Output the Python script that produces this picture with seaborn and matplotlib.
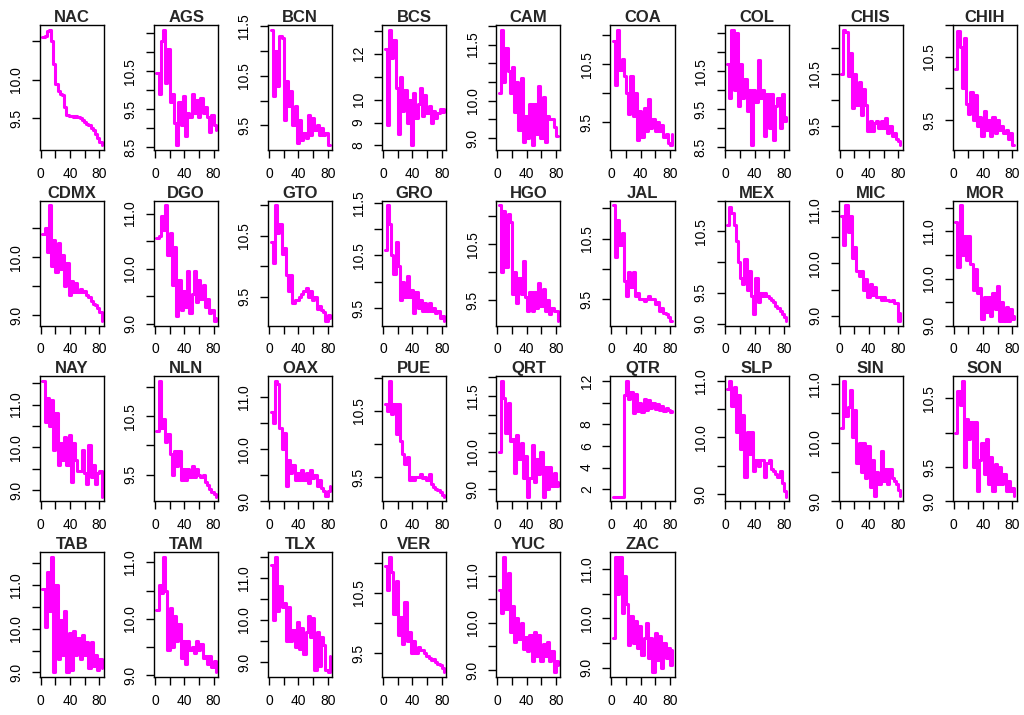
import pandas as pd
import matplotlib
matplotlib.use("Agg")
import matplotlib.pyplot as plt
import seaborn as sns

# monthly index (every third point)
months = list(range(2, 84, 3))

nac = [10.55, 10.57, 10.63, 10.65, 10.5, 10.2, 9.95, 9.85, 9.82, 9.8, 9.65, 9.55, 9.53, 9.53,
       9.52, 9.53, 9.52, 9.5, 9.48, 9.45, 9.43, 9.42, 9.38, 9.35, 9.3, 9.25, 9.2, 9.15]
ags = [10.45, 9.9, 11.3, 11.6, 10.2, 11.1, 9.7, 9.9, 9.15, 8.55, 9.7, 9.1, 9.85, 8.8,
       9.4, 9.3, 9.9, 9.4, 9.75, 9.3, 9.8, 9.4, 9.55, 9.3, 8.9, 9.35, 9.1, 8.95]
bcn = [11.42, 10.1, 11.0, 10.3, 11.3, 11.25, 9.6, 10.4, 9.9, 10.2, 9.5, 9.9, 9.15, 9.6,
       9.2, 9.35, 9.25, 9.7, 9.3, 9.65, 9.4, 9.5, 9.3, 9.45, 9.3, 9.35, 9.1, 9.1]
bcs = [12.2, 8.9, 13.05, 11.8, 12.6, 10.5, 8.5, 11.0, 9.5, 10.4, 9.0, 10.0, 8.0, 10.3,
       9.2, 9.8, 10.5, 9.3, 10.2, 9.4, 9.7, 9.0, 9.5, 9.2, 9.4, 9.6, 9.45, 9.6]
cam = [10.2, 11.9, 10.5, 11.4, 10.8, 10.2, 10.9, 9.7, 10.5, 9.2, 10.6, 8.9, 9.6, 9.0,
       9.9, 8.8, 9.9, 9.1, 10.4, 9.0, 10.1, 8.9, 9.6, 9.5, 9.5, 9.3, 9.05, 9.05]
coa = [10.9, 10.15, 11.1, 10.4, 10.6, 10.3, 10.0, 9.65, 10.3, 9.6, 10.0, 9.2, 9.7, 9.25,
       9.75, 9.35, 9.9, 9.4, 9.55, 9.35, 9.5, 9.35, 9.45, 9.25, 9.3, 9.15, 9.1, 9.3]
col = [10.7, 9.8, 11.6, 10.0, 11.5, 9.6, 10.7, 9.8, 10.3, 9.45, 10.0, 8.55, 10.0, 9.7,
       10.8, 9.8, 10.0, 8.8, 9.9, 9.0, 9.9, 8.7, 9.6, 9.8, 9.0, 9.9, 9.2, 9.3]
chis = [10.5, 11.35, 11.3, 10.45, 10.9, 9.85, 10.5, 9.9, 10.35, 9.7, 10.2, 9.9, 9.4, 9.6,
        9.4, 9.55, 9.6, 9.45, 9.6, 9.45, 9.65, 9.35, 9.5, 9.3, 9.35, 9.25, 9.2, 9.12]
chih = [10.3, 10.9, 10.65, 10.0, 10.8, 9.75, 9.6, 9.95, 9.5, 9.9, 9.4, 9.55, 9.25, 9.65,
        9.35, 9.5, 9.25, 9.55, 9.3, 9.5, 9.35, 9.4, 9.3, 9.35, 9.2, 9.3, 9.1, 9.1]
cdmx = [10.4, 10.5, 10.1, 10.9, 9.85, 10.3, 9.75, 10.25, 9.8, 10.05, 9.5, 9.9, 9.35, 9.6,
        9.4, 9.55, 9.4, 9.45, 9.4, 9.42, 9.35, 9.32, 9.25, 9.2, 9.17, 9.12, 9.05, 8.9]
dgo = [10.55, 10.6, 10.95, 10.7, 11.15, 10.25, 10.65, 9.7, 10.4, 9.15, 9.8, 9.25, 9.6, 9.3,
       9.95, 9.2, 9.55, 9.95, 9.4, 9.8, 9.45, 9.7, 9.3, 9.45, 9.2, 9.25, 9.05, 9.1]
gto = [10.4, 10.05, 11.0, 10.55, 10.7, 10.2, 10.3, 9.85, 9.6, 9.85, 9.4, 9.45, 9.45, 9.5,
       9.55, 9.6, 9.65, 9.5, 9.6, 9.45, 9.5, 9.3, 9.35, 9.28, 9.25, 9.1, 9.2, 9.15]
gro = [10.6, 11.45, 11.1, 10.5, 10.15, 10.75, 10.3, 9.65, 10.0, 9.7, 10.1, 9.7, 9.85, 9.4,
       9.8, 9.5, 9.65, 9.45, 9.6, 9.45, 9.6, 9.45, 9.5, 9.4, 9.45, 9.3, 9.35, 9.25]
hgo = [11.2, 10.0, 11.1, 10.1, 11.05, 10.9, 9.6, 10.0, 9.45, 9.9, 9.6, 10.2, 9.55, 9.3,
       9.65, 9.3, 9.65, 9.35, 9.8, 9.4, 9.7, 9.3, 9.5, 9.25, 9.35, 9.3, 9.3, 9.12]
jal = [11.05, 10.2, 10.8, 10.4, 10.6, 9.8, 9.55, 9.95, 9.7, 9.95, 9.55, 9.6, 9.5, 9.5,
       9.48, 9.5, 9.55, 9.5, 9.5, 9.42, 9.45, 9.3, 9.35, 9.28, 9.25, 9.2, 9.15, 9.14]
mex = [10.6, 10.9, 10.8, 10.6, 10.35, 10.0, 9.75, 9.65, 10.05, 9.55, 9.85, 9.45, 9.15, 9.75,
       9.35, 9.5, 9.45, 9.5, 9.45, 9.42, 9.38, 9.35, 9.28, 9.25, 9.2, 9.15, 9.1, 9.04]
mic = [10.9, 10.35, 11.1, 10.6, 10.9, 10.1, 10.3, 9.85, 9.75, 9.85, 9.5, 9.7, 9.35, 9.6,
       9.4, 9.55, 9.35, 9.35, 9.3, 9.35, 9.3, 9.3, 9.28, 9.3, 9.25, 9.25, 8.9, 9.05]
mor = [11.2, 10.25, 11.55, 10.5, 10.9, 10.4, 10.9, 10.3, 9.75, 10.2, 9.7, 9.8, 9.15, 9.6,
       9.3, 9.6, 9.2, 9.7, 9.35, 9.85, 9.1, 9.5, 9.1, 9.4, 9.1, 9.35, 9.15, 9.2]
nay = [11.55, 10.6, 11.15, 10.5, 11.1, 9.95, 10.8, 9.6, 10.1, 9.7, 10.25, 9.6, 10.3, 9.2,
       10.1, 9.7, 9.45, 9.45, 9.95, 9.4, 9.15, 10.05, 9.3, 9.6, 9.15, 9.4, 9.45, 8.85]
nln = [10.25, 11.1, 10.3, 10.45, 10.05, 10.2, 9.85, 9.5, 9.9, 9.65, 9.9, 9.4, 9.6, 9.4,
       9.6, 9.45, 9.65, 9.45, 9.6, 9.5, 9.45, 9.5, 9.38, 9.32, 9.25, 9.2, 9.16, 9.12]
oax = [10.7, 10.5, 11.3, 11.25, 10.4, 10.0, 10.3, 9.3, 9.8, 9.55, 9.7, 9.4, 9.55, 9.4,
       9.6, 9.4, 9.55, 9.35, 9.6, 9.45, 9.5, 9.3, 9.4, 9.25, 9.2, 9.1, 9.2, 9.3]
pue = [10.6, 10.5, 10.95, 10.45, 10.6, 10.15, 10.6, 10.05, 9.85, 9.7, 9.8, 9.45, 9.5, 9.45,
       9.5, 9.5, 9.55, 9.48, 9.5, 9.45, 9.55, 9.4, 9.35, 9.32, 9.3, 9.28, 9.22, 9.2]
qrt = [10.0, 11.9, 11.45, 10.5, 11.3, 10.3, 10.35, 9.45, 10.45, 9.8, 10.25, 9.3, 9.9, 8.8,
       9.3, 10.2, 9.2, 9.8, 9.4, 10.0, 8.8, 9.6, 9.0, 9.6, 9.1, 9.45, 9.1, 9.2]
qtr = [1.3, 1.3, 1.3, 1.3, 1.3, 10.7, 12.0, 10.3, 11.0, 9.0, 10.8, 9.2, 10.0, 9.1,
       10.3, 9.3, 10.2, 9.5, 10.0, 9.4, 9.9, 9.3, 9.7, 9.2, 9.5, 9.3, 9.1, 9.2]
slp = [10.85, 11.0, 10.55, 10.9, 10.1, 10.75, 9.8, 10.4, 9.3, 10.1, 9.7, 10.1, 9.4, 9.6,
       9.5, 9.6, 9.6, 9.3, 9.55, 9.6, 9.45, 9.4, 9.35, 9.3, 9.4, 9.2, 9.05, 8.95]
sin = [10.25, 11.05, 10.45, 10.6, 10.9, 10.1, 10.55, 9.65, 10.0, 9.5, 10.0, 9.4, 9.95, 9.25,
       9.7, 9.1, 9.5, 9.3, 9.85, 9.35, 9.55, 9.3, 9.55, 9.4, 9.35, 9.3, 9.2, 9.1]
son = [10.0, 10.6, 10.4, 10.75, 9.5, 10.2, 9.9, 10.15, 9.5, 10.15, 9.15, 9.6, 9.85, 9.4,
       9.9, 9.25, 9.65, 9.15, 9.55, 9.25, 9.5, 9.25, 9.4, 9.15, 9.3, 9.15, 9.2, 9.08]
tab = [10.9, 10.05, 11.3, 10.4, 11.65, 9.0, 11.0, 9.3, 10.2, 9.4, 10.4, 9.0, 9.9, 9.05,
       9.95, 9.4, 9.8, 9.3, 9.85, 9.4, 9.7, 9.1, 9.7, 9.15, 9.4, 9.05, 9.3, 9.1]
tam = [10.15, 10.6, 10.45, 11.1, 10.5, 9.45, 10.2, 9.5, 10.05, 9.6, 9.9, 9.3, 9.6, 9.2,
       9.6, 9.45, 9.5, 9.4, 9.6, 9.45, 9.55, 9.3, 9.35, 9.2, 9.35, 9.15, 9.25, 9.05]
tlx = [11.3, 10.0, 11.5, 10.2, 10.8, 10.3, 10.4, 9.5, 10.3, 9.5, 9.75, 9.35, 9.95, 9.3,
       9.8, 9.2, 9.7, 10.1, 9.6, 10.05, 8.8, 9.7, 8.9, 9.6, 9.4, 8.8, 8.75, 9.15]
ver = [10.95, 10.55, 11.1, 10.85, 10.15, 10.7, 9.8, 10.1, 9.65, 10.35, 9.7, 9.85, 9.5, 9.7,
       9.5, 9.6, 9.55, 9.55, 9.5, 9.45, 9.42, 9.38, 9.4, 9.35, 9.32, 9.3, 9.25, 9.18]
yuc = [10.7, 10.2, 11.4, 10.3, 11.05, 9.8, 10.35, 9.6, 10.1, 9.65, 10.0, 9.45, 9.7, 9.4,
       9.75, 9.2, 9.8, 9.3, 9.75, 9.2, 9.55, 9.3, 9.6, 9.2, 9.4, 8.95, 9.2, 9.1]
zac = [9.6, 11.25, 10.5, 11.25, 10.1, 10.85, 10.3, 9.45, 10.05, 9.5, 9.95, 9.4, 9.85, 9.25,
       9.6, 9.9, 9.2, 9.6, 8.9, 9.7, 9.15, 9.65, 9.0, 9.5, 9.2, 9.4, 9.05, 9.35]

states = ["NAC", "AGS", "BCN", "BCS", "CAM", "COA", "COL", "CHIS", "CHIH",
          "CDMX", "DGO", "GTO", "GRO", "HGO", "JAL", "MEX", "MIC", "MOR",
          "NAY", "NLN", "OAX", "PUE", "QRT", "QTR", "SLP", "SIN", "SON",
          "TAB", "TAM", "TLX", "VER", "YUC", "ZAC"]
series = [nac, ags, bcn, bcs, cam, coa, col, chis, chih,
          cdmx, dgo, gto, gro, hgo, jal, mex, mic, mor,
          nay, nln, oax, pue, qrt, qtr, slp, sin, son,
          tab, tam, tlx, ver, yuc, zac]

# y ticks and the labels R actually printed (blank = tick only)
half = [9.0, 9.5, 10.0, 10.5, 11.0, 11.5, 12.0]
y_ticks = {
    "NAC": ([9.5, 10.0, 10.5], ["9.5", "10.0", ""]),
    "AGS": ([8.5, 9.0, 9.5, 10.0, 10.5, 11.0, 11.5], ["8.5", "", "9.5", "", "10.5", "", ""]),
    "BCN": ([9.5, 10.0, 10.5, 11.0, 11.5], ["9.5", "", "10.5", "", "11.5"]),
    "BCS": ([8, 9, 10, 11, 12, 13], ["8", "9", "10", "", "12", ""]),
    "CAM": (half, ["9.0", "", "10.0", "", "", "11.5", ""]),
    "COA": ([9.5, 10.0, 10.5, 11.0], ["9.5", "", "10.5", ""]),
    "COL": ([8.5, 9.0, 9.5, 10.0, 10.5, 11.0, 11.5], ["8.5", "", "9.5", "", "10.5", "", ""]),
    "CHIS": ([9.5, 10.0, 10.5, 11.0], ["9.5", "", "10.5", ""]),
    "CHIH": ([9.5, 10.0, 10.5, 11.0], ["9.5", "", "10.5", ""]),
    "CDMX": ([9.0, 9.5, 10.0, 10.5], ["9.0", "", "10.0", ""]),
    "DGO": (half[:5], ["9.0", "", "10.0", "", "11.0"]),
    "GTO": ([9.5, 10.0, 10.5, 11.0], ["9.5", "", "10.5", ""]),
    "GRO": ([9.5, 10.0, 10.5, 11.0, 11.5], ["9.5", "", "10.5", "", "11.5"]),
    "HGO": ([9.5, 10.0, 10.5, 11.0], ["9.5", "", "10.5", ""]),
    "JAL": ([9.5, 10.0, 10.5, 11.0], ["9.5", "", "10.5", ""]),
    "MEX": (half[:5], ["9.0", "9.5", "", "10.5", ""]),
    "MIC": (half[:5], ["9.0", "", "10.0", "", "11.0"]),
    "MOR": (half[:6], ["9.0", "", "10.0", "", "11.0", ""]),
    "NAY": (half[:6], ["9.0", "", "10.0", "", "11.0", ""]),
    "NLN": ([9.5, 10.0, 10.5, 11.0], ["9.5", "", "10.5", ""]),
    "OAX": (half[:5], ["9.0", "", "10.0", "", "11.0"]),
    "PUE": ([9.5, 10.0, 10.5, 11.0], ["9.5", "", "10.5", ""]),
    "QRT": (half, ["9.0", "", "10.0", "", "", "11.5", ""]),
    "QTR": ([2, 4, 6, 8, 10, 12], ["2", "4", "6", "8", "", "12"]),
    "SLP": (half[:5], ["9.0", "", "10.0", "", "11.0"]),
    "SIN": (half[:5], ["9.0", "", "10.0", "", "11.0"]),
    "SON": (half[:4], ["9.0", "9.5", "", "10.5"]),
    "TAB": (half[:6], ["9.0", "", "10.0", "", "11.0", ""]),
    "TAM": (half[:5], ["9.0", "", "10.0", "", "11.0"]),
    "TLX": (half[:6], ["9.0", "", "10.0", "", "11.0", ""]),
    "VER": ([9.5, 10.0, 10.5, 11.0], ["9.5", "", "10.5", ""]),
    "YUC": (half[:5], ["9.0", "", "10.0", "", "11.0"]),
    "ZAC": (half[:5], ["9.0", "", "10.0", "", "11.0"]),
}
x_ticks = [0, 20, 40, 60, 80]
x_labels = ["0", "", "40", "", "80"]

sns.set_style("ticks")
plt.rcParams["font.family"] = ["Liberation Sans", "DejaVu Sans"]

fig, axes = plt.subplots(4, 9, figsize=(10.24, 7.15), dpi=100)
fig.subplots_adjust(left=0.039, right=0.993, top=0.965, bottom=0.053,
                    wspace=0.78, hspace=0.405)
axes = axes.ravel()

for ax, name, vals in zip(axes, states, series):
    df = pd.DataFrame({"mes": months, "valor": vals})
    sns.lineplot(data=df, x="mes", y="valor", ax=ax, color="#FF00FF",
                 linewidth=2.2, drawstyle="steps-post", estimator=None)
    # R style 4% padding on both axes
    lo, hi = min(vals), max(vals)
    pad = 0.04 * (hi - lo)
    ax.set_ylim(lo - pad, hi + pad)
    xpad = 0.04 * (months[-1] - months[0])
    ax.set_xlim(months[0] - xpad, months[-1] + xpad)
    ticks, labels = y_ticks[name]
    ax.set_yticks(ticks)
    ax.set_yticklabels(labels, rotation=90, va="center")
    ax.set_xticks(x_ticks)
    ax.set_xticklabels(x_labels)
    ax.set_xlabel("")
    ax.set_ylabel("")
    ax.set_title(name, fontweight="bold", fontsize=12, pad=1)
    ax.tick_params(direction="out", length=6, width=1, labelsize=10,
                   colors="black", pad=6)
    for sp in ax.spines.values():
        sp.set_visible(True)
        sp.set_color("black")
        sp.set_linewidth(1)

for ax in axes[len(states):]:
    ax.set_visible(False)

fig.savefig("out.png", dpi=100, facecolor="white")
